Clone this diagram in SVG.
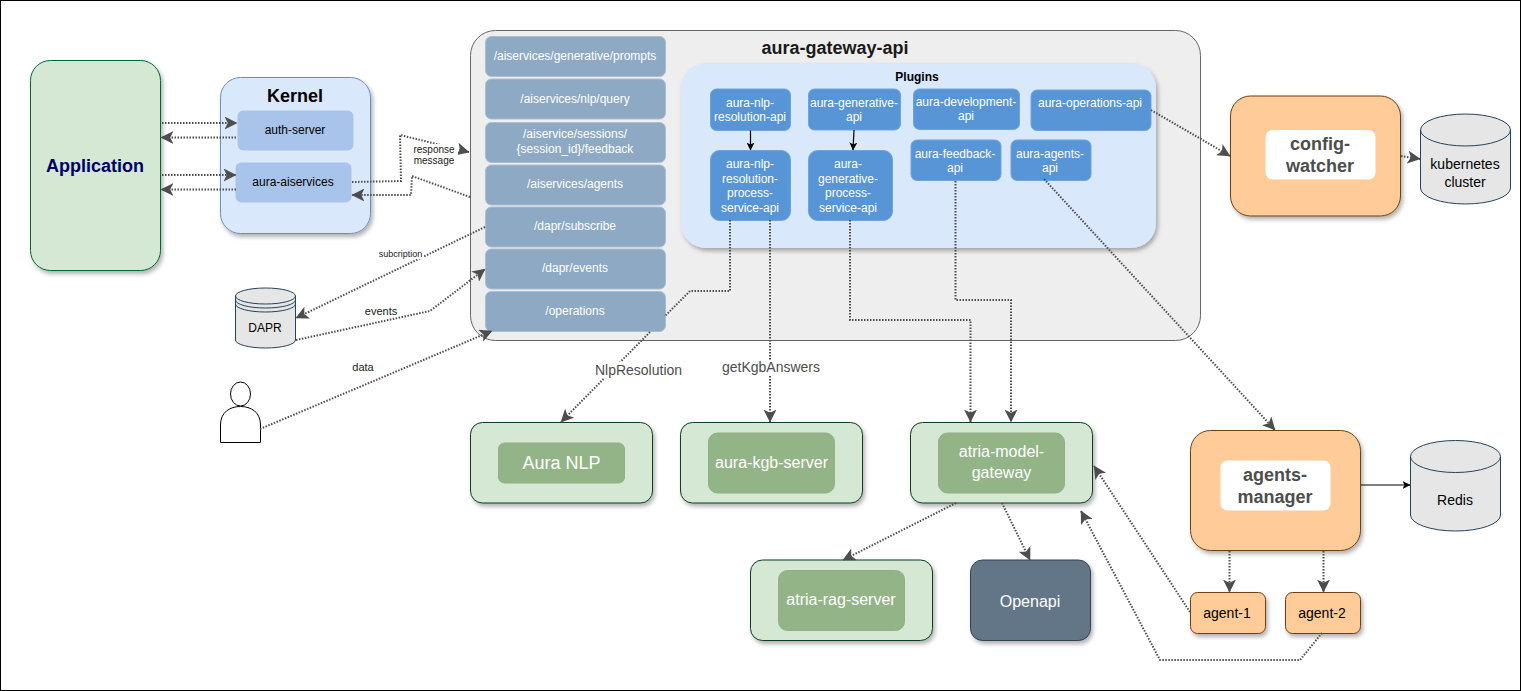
<svg xmlns="http://www.w3.org/2000/svg" width="1521" height="691" viewBox="0 0 1521 691">
<style>
text{font-family:"Liberation Sans",Arial,sans-serif;text-anchor:middle}
.c{fill:none;stroke:#4d4d4d;stroke-width:2;stroke-dasharray:1.5 1.5;marker-end:url(#a)}
.s{fill:none;stroke:#000;stroke-width:1.2;marker-end:url(#b)}
.g{fill:#d5e8d4;stroke:#0b3d22;stroke-width:1;filter:url(#sh)}
.gi{fill:#93b487;stroke:#8fb083;stroke-width:1}
.it{fill:#8ea9c4;stroke:#a9bed3;stroke-width:1}
.bl{fill:#5795d6;stroke:#6ea5dd;stroke-width:1}
.o{fill:#ffcc99;stroke:#6d3f10;stroke-width:1;filter:url(#sh)}
.cy{fill:#e6e6e6;stroke:#23445d;stroke-width:1}
.w{fill:#fff}
.wt{fill:#fff;font-size:12px}
.wl{fill:#fff;font-size:16px}
.d{fill:#000;font-size:12px}
.l{fill:#4d4d4d;font-size:14px}
.m{fill:#4d4d4d;font-size:18px;font-weight:bold}
</style>
<defs>
<filter id="sh" x="-10%" y="-10%" width="125%" height="125%"><feDropShadow dx="2" dy="3" stdDeviation="2" flood-color="#000" flood-opacity="0.3"/></filter>
<marker id="a" viewBox="0 0 12 12" refX="11.5" refY="6" markerWidth="13" markerHeight="13" markerUnits="userSpaceOnUse" orient="auto"><path d="M12,6 L0,0 L3,6 L0,12 Z" fill="#4d4d4d"/></marker>
<marker id="b" viewBox="0 0 8 8" refX="7.5" refY="4" markerWidth="8" markerHeight="8" markerUnits="userSpaceOnUse" orient="auto"><path d="M8,4 L0,0 L2,4 L0,8 Z" fill="#000"/></marker>
</defs>
<rect x="0.5" y="0.5" width="1520" height="690" fill="#fff" stroke="#000"/>

<g id="application"><rect x="30.5" y="60.5" width="130" height="210" rx="20" fill="#d5e8d4" stroke="#006633" filter="url(#sh)"/><text x="95" y="172" font-size="18" font-weight="bold" fill="#000066">Application</text></g>
<g id="kernel"><rect x="220.5" y="77.5" width="150" height="156" rx="20" fill="#dae8fc" stroke="#6c8ebf" filter="url(#sh)"/><text x="295" y="102" font-size="18" font-weight="bold" fill="#000">Kernel</text></g>
<g id="auth-server"><rect x="237.5" y="110.5" width="116" height="40" rx="6" fill="#a9c4eb"/><text class="d" x="295" y="134">auth-server</text></g>
<g id="aura-aiservices"><rect x="235.5" y="162.5" width="116" height="40" rx="6" fill="#a9c4eb"/><text class="d" x="293" y="186">aura-aiservices</text></g>

<g id="aura-gateway-api"><rect x="470.5" y="30.5" width="730" height="310" rx="25" fill="#eeeeee" stroke="#666"/><text x="835" y="54" font-size="18" font-weight="bold" fill="#1a1a1a">aura-gateway-api</text></g>
<g id="route-prompts"><rect class="it" x="485.5" y="36.5" width="180" height="40" rx="6"/><text class="wt" x="575" y="60">/aiservices/generative/prompts</text></g>
<g id="route-query"><rect class="it" x="485.5" y="79" width="180" height="40" rx="6"/><text class="wt" x="575" y="103">/aiservices/nlp/query</text></g>
<g id="route-feedback"><rect class="it" x="485.5" y="122.5" width="180" height="40" rx="6"/><text class="wt" x="575" y="138">/aiservice/sessions/<tspan x="575" dy="15">{session_id}/feedback</tspan></text></g>
<g id="route-agents"><rect class="it" x="485.5" y="165" width="180" height="40" rx="6"/><text class="wt" x="575" y="188">/aiservices/agents</text></g>
<g id="route-subscribe"><rect class="it" x="485.5" y="207" width="180" height="40" rx="6"/><text class="wt" x="575" y="230">/dapr/subscribe</text></g>
<g id="route-events"><rect class="it" x="485.5" y="249" width="180" height="40" rx="6"/><text class="wt" x="575" y="272">/dapr/events</text></g>
<g id="route-operations"><rect class="it" x="485.5" y="291.5" width="180" height="40" rx="6"/><text class="wt" x="575" y="315">/operations</text></g>

<g id="plugins"><rect x="681" y="63" width="475" height="185" rx="25" fill="#dae8fc" filter="url(#sh)"/><text x="917" y="81" font-size="12" font-weight="bold" fill="#000">Plugins</text></g>
<g id="aura-nlp-resolution-api"><rect class="bl" x="710.5" y="89" width="80" height="41.5" rx="6"/><text class="wt" x="750" y="106.5">aura-nlp-<tspan x="750" dy="14">resolution-api</tspan></text></g>
<g id="aura-nlp-resolution-process-service-api"><rect class="bl" x="710.5" y="150.5" width="80" height="70" rx="9"/><text class="wt" x="750" y="168">aura-nlp-<tspan x="750" dy="14.5">resolution-</tspan><tspan x="750" dy="14.5">process-</tspan><tspan x="750" dy="14.5">service-api</tspan></text></g>
<g id="aura-generative-api"><rect class="bl" x="808.5" y="89" width="92" height="41" rx="6"/><text class="wt" x="854" y="107">aura-generative-<tspan x="854" dy="14">api</tspan></text></g>
<g id="aura-generative-process-service-api"><rect class="bl" x="808.5" y="150.5" width="84" height="70" rx="9"/><text class="wt" x="848" y="168">aura-<tspan x="848" dy="14.5">generative-</tspan><tspan x="848" dy="14.5">process-</tspan><tspan x="848" dy="14.5">service-api</tspan></text></g>
<g id="aura-development-api"><rect class="bl" x="913.5" y="89" width="106" height="40.5" rx="6"/><text class="wt" x="966" y="106">aura-development-<tspan x="966" dy="14">api</tspan></text></g>
<g id="aura-operations-api"><rect class="bl" x="1031" y="90" width="120" height="40.5" rx="6"/><text class="wt" x="1090" y="107">aura-operations-api</text></g>
<g id="aura-feedback-api"><rect class="bl" x="911" y="140" width="90" height="40.5" rx="6"/><text class="wt" x="955" y="158">aura-feedback-<tspan x="955" dy="14">api</tspan></text></g>
<g id="aura-agents-api"><rect class="bl" x="1011" y="140" width="80" height="40.5" rx="6"/><text class="wt" x="1050" y="158">aura-agents-<tspan x="1050" dy="14">api</tspan></text></g>

<g id="config-watcher"><rect class="o" x="1230.5" y="96" width="170" height="120" rx="20"/><rect class="w" x="1265.5" y="130" width="110" height="49.5" rx="7"/><text class="m" x="1320" y="150">config-<tspan x="1320" dy="22">watcher</tspan></text></g>
<g id="kubernetes-cluster"><path class="cy" d="M1420.5,130 A45,16 0 0 1 1510.5,130 V188 A45,16 0 0 1 1420.5,188 Z"/><path fill="none" stroke="#23445d" d="M1420.5,130 A45,16 0 0 0 1510.5,130"/><text x="1465" y="169" font-size="14" fill="#000">kubernetes<tspan x="1465" dy="18">cluster</tspan></text></g>
<g id="dapr"><path class="cy" d="M235.5,296 A30,8 0 0 1 295.5,296 V340 A30,8 0 0 1 235.5,340 Z"/><path fill="none" stroke="#23445d" d="M235.5,296 A30,8 0 0 0 295.5,296 M235.5,300 A30,8 0 0 0 295.5,300 M235.5,304 A30,8 0 0 0 295.5,304"/><text class="d" x="265" y="332">DAPR</text></g>
<g id="user"><ellipse cx="240.5" cy="394" rx="10" ry="12" fill="#fff" stroke="#000"/><path d="M220.5,442.5 V425 C220.5,412 230,406.5 240.5,406.5 C251,406.5 260.5,412 260.5,425 V442.5 Z" fill="#fff" stroke="#000"/></g>

<g id="aura-nlp"><rect class="g" x="470.5" y="422.5" width="182" height="80.5" rx="12"/><rect class="gi" x="498.5" y="443" width="126" height="40" rx="6"/><text x="561.5" y="469" font-size="18" fill="#fff">Aura NLP</text></g>
<g id="aura-kgb-server"><rect class="g" x="680.5" y="422.5" width="182" height="80.5" rx="12"/><rect class="gi" x="708.5" y="433" width="126" height="60" rx="9"/><text class="wl" x="771.5" y="468">aura-kgb-server</text></g>
<g id="atria-model-gateway"><rect class="g" x="910.5" y="422.5" width="182" height="80.5" rx="12"/><rect class="gi" x="938.5" y="433" width="126" height="60" rx="9"/><text class="wl" x="1001.5" y="457">atria-model-<tspan x="1001.5" dy="21">gateway</tspan></text></g>
<g id="atria-rag-server"><rect class="g" x="750.5" y="560" width="182" height="80.5" rx="12"/><rect class="gi" x="778.5" y="570.5" width="126" height="60" rx="9"/><text class="wl" x="841" y="605">atria-rag-server</text></g>
<g id="openapi"><rect x="970.5" y="560" width="120" height="80.5" rx="12" fill="#647687" stroke="#314354" filter="url(#sh)"/><text class="wl" x="1030" y="607">Openapi</text></g>
<g id="agents-manager"><rect class="o" x="1190.5" y="430.5" width="170" height="120" rx="20"/><rect class="w" x="1220.5" y="460.5" width="110" height="50" rx="7"/><text class="m" x="1275" y="481">agents-<tspan x="1275" dy="22">manager</tspan></text></g>
<g id="redis"><path class="cy" d="M1410.5,456.5 A45,16 0 0 1 1500.5,456.5 V515 A45,16 0 0 1 1410.5,515 Z"/><path fill="none" stroke="#23445d" d="M1410.5,456.5 A45,16 0 0 0 1500.5,456.5"/><text x="1455" y="505" font-size="14" fill="#000">Redis</text></g>
<g id="agent-1"><rect class="o" x="1190.5" y="592.5" width="75" height="41" rx="7"/><text x="1227" y="618" font-size="14" fill="#000">agent-1</text></g>
<g id="agent-2"><rect class="o" x="1285.5" y="592.5" width="75" height="41" rx="7"/><text x="1322" y="618" font-size="14" fill="#000">agent-2</text></g>

<g id="connectors">
<path class="c" d="M162,123 H237"/>
<path class="c" d="M236,137.5 H161"/>
<path class="c" d="M162,175 H236"/>
<path class="c" d="M236,189.5 H161"/>
<path class="c" d="M352,182 L401,181 L400,135 L469,152"/>
<path class="c" d="M470,197 L412,176 L411,195 H352"/>
<path class="c" d="M485,227 L296,318"/>
<path class="c" d="M296,340 L430,311 L485,269"/>
<path class="c" d="M260,429 L492,331"/>
<path class="c" d="M730,220 V291 H690 L665,316 M650,332 L561,422"/>
<path class="c" d="M770,220 V422"/>
<path class="c" d="M850,220 V320 H970.5 V422"/>
<path class="c" d="M955.5,181 V300 H1011 V422"/>
<path class="c" d="M1044,179 L1275,430"/>
<path class="c" d="M1151,110 L1230,156"/>
<path class="c" d="M1401,156 L1420,159"/>
<path class="c" d="M956,503 L843,560"/>
<path class="c" d="M1002,503 L1030,560"/>
<path class="c" d="M1229.5,551 V592"/>
<path class="c" d="M1323.5,551 V592"/>
<path class="c" d="M1190,612 L1094,466"/>
<path class="c" d="M1322,633 L1300,660 H1160 L1081,511"/>
<path class="s" d="M750.5,130.5 V150"/>
<path class="s" d="M854,130 L853,150"/>
<path class="s" d="M1361,485 H1410"/>
<rect x="412" y="144" width="46" height="24" fill="#fff"/>
<rect x="378" y="248" width="46" height="11" fill="#fff"/>
<rect x="595" y="362" width="88" height="16" fill="#fff"/>
<rect x="722" y="360" width="98" height="16" fill="#fff"/>
<text x="434" y="153" font-size="10" fill="#1a1a1a">response<tspan x="434" dy="11">message</tspan></text>
<text x="400.5" y="257" font-size="9" fill="#1a1a1a">subcription</text>
<text x="381" y="315" font-size="11" fill="#1a1a1a">events</text>
<text x="363" y="371" font-size="11" fill="#1a1a1a">data</text>
<text class="l" x="638.5" y="375">NlpResolution</text>
<text class="l" x="771" y="372">getKgbAnswers</text>
</g>
</svg>
